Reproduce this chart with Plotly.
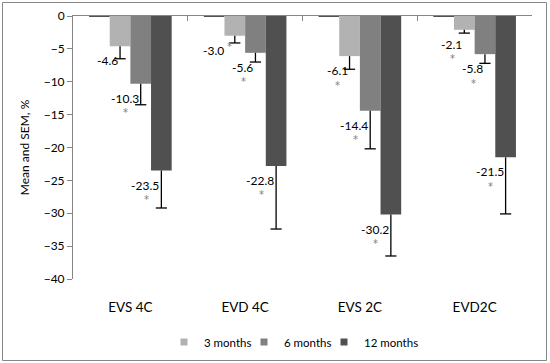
import plotly.graph_objects as go

# ---- data ----
categories = ["EVS 4C", "EVD 4C", "EVS 2C", "EVD2C"]
series_names = ["3 months", "6 months", "12 months"]
baseline = [-0.15, -0.15, -0.15, -0.15]
m3 = [-4.6, -3.0, -6.1, -2.1]
m6 = [-10.3, -5.6, -14.4, -5.8]
m12 = [-23.5, -22.8, -30.2, -21.5]
sem3 = [1.9, 1.1, 2.0, 0.5]
sem6 = [3.2, 1.4, 5.8, 1.4]
sem12 = [5.7, 9.6, 6.3, 8.6]
sig3 = [False, True, True, True]
sig6 = [True, True, True, True]
sig12 = [True, True, True, True]
yticks = [0, -5, -10, -15, -20, -25, -30, -35, -40]

# ---- style ----
FONT = "Lato"
colors = ["#b2b2b2", "#808080", "#505050"]
base_color = "#505050"
axis_color = "#868686"
star_color = "#808080"
W, H = 550, 363
ML, MR, MT, MB = 73, 18, 16, 84
BARGAP = 0.28
NTR = 4
bw = (1 - BARGAP) / NTR
CHAR_W = {"-": 4.4, ".": 2.9}


def text_width(s):
    return sum(CHAR_W.get(c, 6.96) for c in s)


xs = list(range(len(categories)))
fig = go.Figure()

fig.add_trace(go.Bar(x=xs, y=baseline, marker_color=base_color, showlegend=False,
                     hoverinfo="skip", marker_line_width=0))

values = [m3, m6, m12]
sems = [sem3, sem6, sem12]
sigs = [sig3, sig6, sig12]
for k, (name, vals, err, col) in enumerate(zip(series_names, values, sems, colors)):
    fig.add_trace(go.Bar(
        x=xs, y=vals, name=name, marker_color=col, marker_line_width=0,
        showlegend=False,
        error_y=dict(type="data", symmetric=False, array=[0] * len(vals),
                     arrayminus=err, width=0, thickness=1.3, color="black"),
    ))

# caps at bottom of error bars (only the lower end has a cap)
for k, (vals, err) in enumerate(zip(values, sems)):
    off = (k + 1 - (NTR - 1) / 2) * bw
    fig.add_trace(go.Scatter(
        x=[i + off for i in xs], y=[v - e for v, e in zip(vals, err)],
        mode="markers", xaxis="x2", showlegend=False, hoverinfo="skip",
        marker=dict(symbol="line-ew", size=8, line=dict(width=1.3, color="black")),
    ))

# legend entries
for j, (name, col) in enumerate(zip(series_names, colors)):
    fig.add_trace(go.Scatter(x=[None], y=[None], mode="markers", name=name,
                             legendwidth=(60 if j == len(series_names) - 1 else None),
                             marker=dict(symbol="square", size=7, color=col)))

# data labels with significance stars
annotations = []
for k, (vals, sg) in enumerate(zip(values, sigs)):
    off = (k + 1 - (NTR - 1) / 2) * bw
    for i, (v, s) in enumerate(zip(vals, sg)):
        txt = f"{v:.1f}"
        inline = (k == 0 and i == 1)
        lx = -9 if inline else 0
        annotations.append(dict(
            x=i + off, y=v, xref="x", yref="y", text=txt, showarrow=False,
            xanchor="right", yanchor="top", xshift=lx, yshift=-5,
            font=dict(family=FONT, size=12, color="black"),
        ))
        if s:
            if inline:
                annotations.append(dict(
                    x=i + off, y=v, xref="x", yref="y", text="*", showarrow=False,
                    xanchor="left", yanchor="middle", xshift=lx - 1, yshift=-11,
                    font=dict(family="DejaVu Sans", size=10, color=star_color),
                ))
            else:
                annotations.append(dict(
                    x=i + off, y=v, xref="x", yref="y", text="*", showarrow=False,
                    xanchor="center", yanchor="middle",
                    xshift=lx - 2 - text_width(txt) / 2 + 1, yshift=-29,
                    font=dict(family="DejaVu Sans", size=10, color=star_color),
                ))

pw = W - ML - MR
ph = H - MT - MB
fig.add_shape(type="rect", xref="paper", yref="paper",
              x0=(2.5 - ML) / pw, x1=(546.5 - ML) / pw,
              y0=(H - MB - 360.5) / ph, y1=(H - MB - 2.5) / ph,
              line=dict(color=axis_color, width=1), fillcolor="rgba(0,0,0,0)", layer="below")

fig.update_layout(
    template="none",
    width=W, height=H,
    margin=dict(l=ML, r=MR, t=MT, b=MB, autoexpand=False),
    paper_bgcolor="white", plot_bgcolor="white",
    barmode="group", bargap=BARGAP, bargroupgap=0,
    font=dict(family=FONT, size=12, color="black"),
    annotations=annotations,
    xaxis=dict(range=[-0.5, len(categories) - 0.5], tickvals=xs, ticktext=categories,
               showgrid=False, zeroline=False, showline=False, automargin=False,
               ticks="outside", ticklen=16, tickcolor="rgba(0,0,0,0)",
               tickfont=dict(family=FONT, size=13.5, color="black")),
    xaxis2=dict(overlaying="x", side="top", anchor="y", automargin=False,
                range=[-0.5, len(categories) - 0.5],
                tickvals=[i - 0.5 for i in range(len(categories) + 1)],
                showticklabels=False, ticks="inside", ticklen=5, tickcolor=axis_color,
                showline=True, linecolor=axis_color, linewidth=1,
                showgrid=False, zeroline=False),
    yaxis=dict(range=[-40, 0], tickvals=yticks, showgrid=False, zeroline=False,
               showline=True, linecolor=axis_color, linewidth=1, automargin=False,
               ticks="outside", ticklen=5, tickcolor=axis_color,
               tickfont=dict(family=FONT, size=12, color="black"),
               title=dict(text="Mean and SEM, %", font=dict(family=FONT, size=12, color="black"),
                          standoff=11)),
    legend=dict(orientation="h", x=(164 - ML) / pw, xanchor="left", y=(H - MB - 342) / ph,
                yanchor="middle", font=dict(family=FONT, size=11.5, color="black"),
                bgcolor="rgba(0,0,0,0)", itemwidth=30, entrywidth=35,
                entrywidthmode="pixels"),
)

fig.write_html("out.html", config={"displayModeBar": False},
               post_script="document.documentElement.style.margin='0';"
                           "document.body.style.margin='0';"
                           "document.body.style.overflow='hidden';")
